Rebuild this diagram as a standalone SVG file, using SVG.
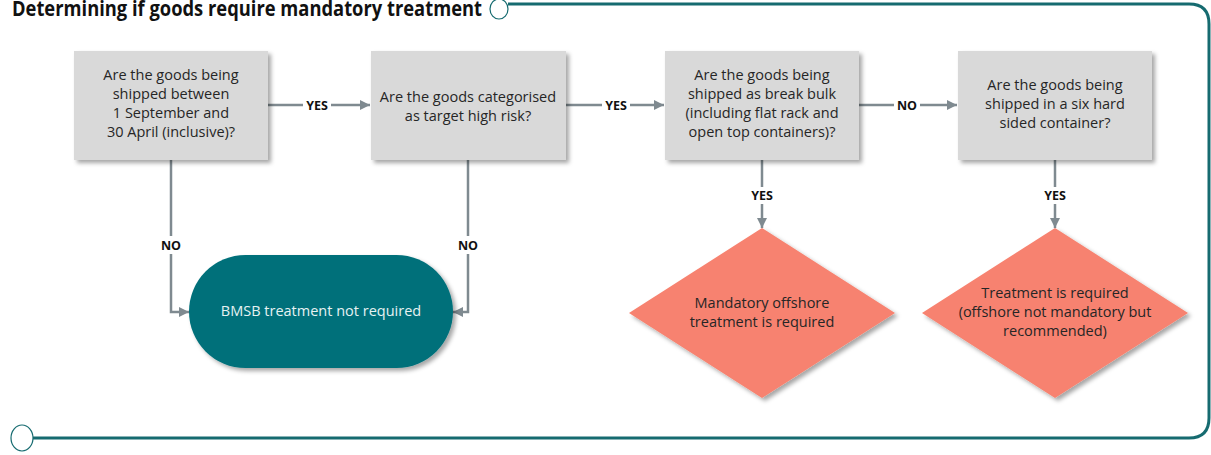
<svg xmlns="http://www.w3.org/2000/svg" width="1211" height="455" viewBox="0 0 1211 455">
<defs>
<style>
.box{fill:#d9d9d9;}
.qt{font-family:"Open Sans","Liberation Sans",sans-serif;font-size:14.5px;fill:#262626;text-anchor:middle;}
.lbl{font-family:"Open Sans","Liberation Sans",sans-serif;font-size:12.5px;font-weight:bold;fill:#111;text-anchor:middle;}
.ln{fill:none;stroke:#7f8a90;stroke-width:2.5;}
.frame{fill:none;stroke:#166b70;stroke-width:3;}
.ring{fill:#fff;stroke:#166b70;stroke-width:1.2;}
.dia{fill:#f7826f;}
</style>
<filter id="sh" x="-10%" y="-10%" width="125%" height="130%">
<feDropShadow dx="3" dy="3" stdDeviation="2" flood-color="#000" flood-opacity="0.35"/>
</filter>
<marker id="ah" viewBox="0 0 10 10" refX="10" refY="5" markerWidth="4" markerHeight="4" markerUnits="strokeWidth" orient="auto">
<path d="M0,0 L10,5 L0,10 Z" fill="#7f8a90"/>
</marker>
</defs>
<rect width="1211" height="455" fill="#fff"/>

<g id="frame">
<path class="frame" d="M508,4 H1189 Q1209,4 1209,24 V418 Q1209,438 1189,438 H33"/>
<ellipse class="ring" cx="499" cy="9" rx="9" ry="10"/>
<ellipse class="ring" cx="22" cy="438" rx="11" ry="13"/>
</g>

<g id="title">
<text x="12" y="16" font-family="'Open Sans','Liberation Sans',sans-serif" font-size="21" font-weight="bold" fill="#111" textLength="470" lengthAdjust="spacingAndGlyphs">Determining if goods require mandatory treatment</text>
</g>

<g id="connectors">
<path class="ln" d="M268,105 H303"/>
<path class="ln" d="M331,105 H370" marker-end="url(#ah)"/>
<text class="lbl" x="317" y="110">YES</text>
<path class="ln" d="M566,105 H602"/>
<path class="ln" d="M630,105 H664" marker-end="url(#ah)"/>
<text class="lbl" x="616" y="110">YES</text>
<path class="ln" d="M859,105 H894"/>
<path class="ln" d="M920,105 H957" marker-end="url(#ah)"/>
<text class="lbl" x="907" y="110">NO</text>

<path class="ln" d="M171,160 V236"/>
<path class="ln" d="M171,254 V312 H189" marker-end="url(#ah)"/>
<text class="lbl" x="171" y="250">NO</text>
<path class="ln" d="M468,160 V236"/>
<path class="ln" d="M468,254 V312 H453" marker-end="url(#ah)"/>
<text class="lbl" x="468" y="250">NO</text>

<path class="ln" d="M762,160 V187"/>
<path class="ln" d="M762,204 V228" marker-end="url(#ah)"/>
<text class="lbl" x="762" y="200">YES</text>
<path class="ln" d="M1055,160 V187"/>
<path class="ln" d="M1055,204 V228" marker-end="url(#ah)"/>
<text class="lbl" x="1055" y="200">YES</text>
</g>

<g id="q1">
<rect class="box" x="74" y="51" width="194" height="109" filter="url(#sh)"/>
<text class="qt" x="171" y="80">Are the goods being</text>
<text class="qt" x="171" y="99">shipped between</text>
<text class="qt" x="171" y="118">1 September and</text>
<text class="qt" x="171" y="137">30 April (inclusive)?</text>
</g>

<g id="q2">
<rect class="box" x="371" y="51" width="195" height="109" filter="url(#sh)"/>
<text class="qt" x="468" y="102">Are the goods categorised</text>
<text class="qt" x="468" y="121">as target high risk?</text>
</g>

<g id="q3">
<rect class="box" x="665" y="51" width="194" height="109" filter="url(#sh)"/>
<text class="qt" x="762" y="80">Are the goods being</text>
<text class="qt" x="762" y="99">shipped as break bulk</text>
<text class="qt" x="762" y="118">(including flat rack and</text>
<text class="qt" x="762" y="137">open top containers)?</text>
</g>

<g id="q4">
<rect class="box" x="958" y="51" width="194" height="109" filter="url(#sh)"/>
<text class="qt" x="1055" y="90">Are the goods being</text>
<text class="qt" x="1055" y="109">shipped in a six hard</text>
<text class="qt" x="1055" y="128">sided container?</text>
</g>

<g id="not-required">
<rect x="189" y="255" width="264" height="113" rx="56.5" ry="56.5" fill="#00707a" filter="url(#sh)"/>
<text x="321" y="316" font-family="'Open Sans','Liberation Sans',sans-serif" font-size="14.5" fill="#e6f2f2" text-anchor="middle">BMSB treatment not required</text>
</g>

<g id="mandatory">
<path class="dia" d="M762,228 L895,313 L762,398 L629,313 Z" filter="url(#sh)"/>
<text class="qt" x="762" y="308">Mandatory offshore</text>
<text class="qt" x="762" y="327">treatment is required</text>
</g>

<g id="recommended">
<path class="dia" d="M1055,228 L1188,313 L1055,398 L922,313 Z" filter="url(#sh)"/>
<text class="qt" x="1055" y="298">Treatment is required</text>
<text class="qt" x="1055" y="317">(offshore not mandatory but</text>
<text class="qt" x="1055" y="336">recommended)</text>
</g>
</svg>
